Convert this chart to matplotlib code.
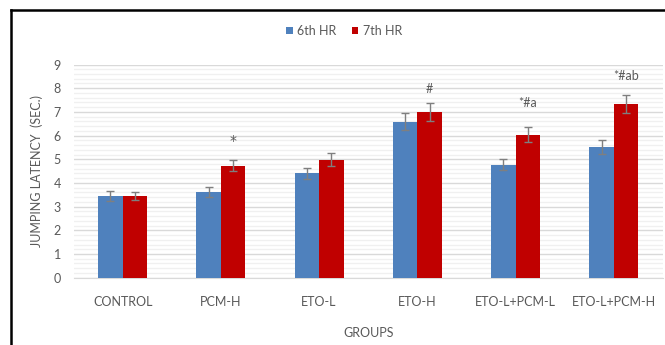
import matplotlib
matplotlib.use("Agg")
import matplotlib.pyplot as plt
from matplotlib.lines import Line2D
from matplotlib.ticker import MultipleLocator
import numpy as np

groups = ["CONTROL", "PCM-H", "ETO-L", "ETO-H", "ETO-L+PCM-L", "ETO-L+PCM-H"]
series_names = ["6th HR", "7th HR"]
hr6 = [3.45, 3.62, 4.41, 6.59, 4.77, 5.52]
hr6_err = [0.20, 0.20, 0.23, 0.35, 0.24, 0.30]
hr7 = [3.45, 4.73, 4.98, 7.01, 6.04, 7.33]
hr7_err = [0.15, 0.23, 0.28, 0.38, 0.32, 0.38]
sig_labels = ["", "*", "", "#", "*#a", "*#ab"]
sig_offset_pt = [0, 14, 0, 10, 17, 14]

blue = "#4F81BD"
red = "#C00000"
text_col = "#595959"
font = ["Lato", "DejaVu Sans"]
fs = 9

plt.rcParams["font.family"] = font

fig = plt.figure(figsize=(6.65, 3.45), dpi=100)
ax = fig.add_axes([73.5 / 665, 1 - 277.7 / 345, (663 - 73.5) / 665, (277.7 - 64.5) / 345])

x = np.arange(len(groups)) + 0.5
w = 0.25
err_kw = dict(ecolor="#7f7f7f", elinewidth=1, capsize=3, capthick=1)
ax.bar(x - w / 2, hr6, w, yerr=hr6_err, color=blue, label=series_names[0],
       error_kw=err_kw, zorder=3)
ax.bar(x + w / 2, hr7, w, yerr=hr7_err, color=red, label=series_names[1],
       error_kw=err_kw, zorder=3)

for xi, v, e, lab, off in zip(x + w / 2, hr7, hr7_err, sig_labels, sig_offset_pt):
    if lab:
        # a lone star is set larger so it reads clearly
        kw = dict(family="DejaVu Sans", fontsize=10) if lab == "*" else dict(fontsize=fs)
        ax.annotate(lab, (xi, v + e), xytext=(0, off), textcoords="offset points",
                    ha="center", va="center", color=text_col, **kw)

ax.set_xlim(0, len(groups))
ax.set_ylim(0, 9)
ax.set_xticks(x)
ax.set_xticklabels(groups)
ax.yaxis.set_major_locator(MultipleLocator(1))
ax.yaxis.set_minor_locator(MultipleLocator(0.2))
ax.grid(axis="y", which="major", color="#d9d9d9", linewidth=1, zorder=0)
ax.grid(axis="y", which="minor", color="#f0f0f0", linewidth=1, zorder=0)
ax.tick_params(axis="both", which="both", length=0, colors=text_col, labelsize=fs)
ax.tick_params(axis="x", pad=13.5)
ax.tick_params(axis="y", pad=9)
for s in ["top", "right", "left"]:
    ax.spines[s].set_visible(False)
ax.spines["bottom"].set_color("#d9d9d9")

ax.set_xlabel("GROUPS", color=text_col, fontsize=fs, labelpad=13)
ax.set_ylabel("JUMPING LATENCY  (SEC.)", color=text_col, fontsize=fs, labelpad=8)

leg = fig.legend(loc="center", bbox_to_anchor=(344 / 665, 1 - 31 / 345), ncol=2,
                 frameon=False, fontsize=fs, handlelength=0.55, handleheight=0.55,
                 handletextpad=0.35, columnspacing=1.2)
for t in leg.get_texts():
    t.set_color(text_col)

# outer frame (top and left edges)
fig.add_artist(Line2D([11 / 665, 1], [1 - 10 / 345, 1 - 10 / 345], color="black",
                      linewidth=1.8, transform=fig.transFigure))
fig.add_artist(Line2D([11 / 665, 11 / 665], [0, 1 - 10 / 345], color="black",
                      linewidth=1.8, transform=fig.transFigure))

fig.savefig("out.png", dpi=100)
